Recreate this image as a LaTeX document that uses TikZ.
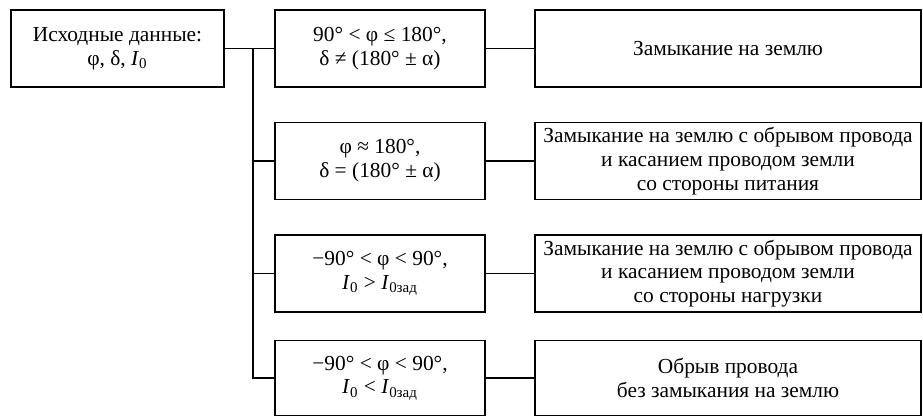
\documentclass[tikz,border=0pt]{standalone}
\usepackage{fontspec}
\setmainfont{Liberation Serif}
\usepackage{tikz}
\usetikzlibrary{calc}
\tikzset{
	blk/.style={draw, line width=0.65pt, align=center, inner sep=0pt, font=\fontsize{10.7}{11.9}\selectfont},
	cnd/.style={blk, minimum width=105pt, minimum height=38.5pt},
	res/.style={blk, minimum width=193pt, minimum height=38.5pt},
	lnk/.style={line width=0.65pt}
}
\newcommand{\Izero}{\textit{I}\textsubscript{0}}

\begin{document}
\begin{tikzpicture}[x=0.5pt, y=-0.5pt]
		%%%%% START %%%%%
		\useasboundingbox (0, 0) rectangle (923, 417);

		\node[blk, minimum width=106.5pt, minimum height=38.5pt] (inp) at (117.5, 48.5) {Исходные данные:\\φ, δ, \Izero};

		\node[cnd] (c1) at (380, 48.5) {90° < φ ≤ 180°,\\δ ≠ (180° ± α)};
		\node[cnd] (c2) at (380, 161) {φ ≈ 180°,\\δ = (180° ± α)};
		\node[cnd] (c3) at (380, 273.5) {−90° < φ < 90°,\\\Izero{} > \textit{I}\textsubscript{0зад}};
		\node[cnd, minimum height=37.5pt] (c4) at (380, 378) {−90° < φ < 90°,\\\Izero{} < \textit{I}\textsubscript{0зад}};

		\node[res] (r1) at (728, 48.5) {Замыкание на землю};
		\node[res] (r2) at (728, 161) {Замыкание на землю с обрывом провода\\и касанием проводом земли\\со стороны питания};
		\node[res] (r3) at (728, 273.5) {Замыкание на землю с обрывом провода\\и касанием проводом земли\\со стороны нагрузки};
		\node[res, minimum height=37.5pt] (r4) at (728, 378) {Обрыв провода\\без замыкания на землю};

		\coordinate (bus) at (253, 48.5);
		\draw[lnk] (inp.east) -- (c1.west);
		\foreach \i in {2,3,4}
			\draw[lnk] (bus) |- (c\i.west);
		\foreach \i in {1,...,4}
			\draw[lnk] (c\i.east) -- (r\i.west);
		%%%%% END %%%%%
\end{tikzpicture}
\end{document}
